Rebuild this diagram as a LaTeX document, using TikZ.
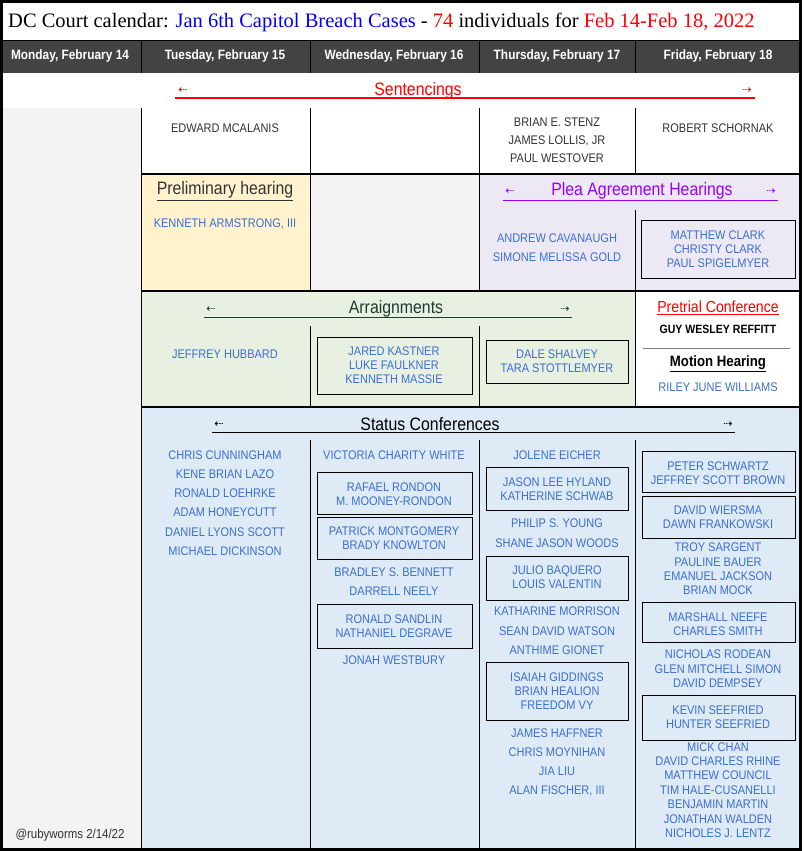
\documentclass[tikz,border=0pt]{standalone}
\usepackage{fontspec}
\setmainfont{Liberation Sans}[FakeStretch=0.88]
\newfontfamily\ser{Liberation Serif}
\newfontfamily\dv{DejaVu Sans}
\definecolor{nblue}{HTML}{3C6FD0}
\definecolor{ndark}{HTML}{333333}
\definecolor{hdr}{HTML}{434343}
\definecolor{mon}{HTML}{F3F3F3}
\definecolor{yel}{HTML}{FFF2CC}
\definecolor{lav}{HTML}{EDE9F4}
\definecolor{grn}{HTML}{E7F0E1}
\definecolor{blu}{HTML}{DEEAF6}
\definecolor{purp}{HTML}{9900FF}
\definecolor{dgrn}{HTML}{1F3B33}
\tikzset{
 nm/.style={text=nblue,font=\fontsize{12.5}{14}\selectfont,inner sep=0pt,align=center},
 nmd/.style={text=ndark,font=\fontsize{12.5}{14}\selectfont,inner sep=0pt,align=center},
 hd/.style={text=white,font=\bfseries\fontsize{13.5}{15}\selectfont,inner sep=0pt},
 sec/.style={font=\fontsize{18}{20}\selectfont,inner sep=0pt},
 ar/.style={font=\dv\fontsize{11}{12}\selectfont,inner sep=0pt},
 bx/.style={draw=black,line width=1pt},
 cl/.style={draw=black,line width=0.8pt},
 thk/.style={draw=black,line width=2pt}
}
\begin{document}
\begin{tikzpicture}[x=1pt,y=-1pt]
\useasboundingbox (0,0) rectangle (804,851);
\fill[white] (0,0) rectangle (804,851);
% fills
\fill[hdr] (0,40) rectangle (800,73);
\fill[mon] (0,108) rectangle (141,851);
\fill[yel] (141,174) rectangle (310,291);
\fill[mon] (310,174) rectangle (479,291);
\fill[lav] (479,174) rectangle (800,291);
\fill[grn] (141,291) rectangle (635,407);
\fill[blu] (141,407) rectangle (800,851);
% header
\foreach \a/\b in {141,310,479,635}{\draw[black,line width=0.8pt] (\a,40) -- (\a,73);}
\node[hd] (h1) at (70,56.5) {Monday, February 14};
\node[hd] (h2) at (225,56.5) {Tuesday, February 15};
\node[hd] (h3) at (394,56.5) {Wednesday, February 16};
\node[hd] (h4) at (557,56.5) {Thursday, February 17};
\node[hd] (h5) at (718,56.5) {Friday, February 18};
\node[inner sep=0pt,anchor=west,font=\ser\fontsize{20.5}{24}\selectfont] (title) at (8,22) {DC Court calendar: \textcolor{blue}{Jan 6th Capitol Breach Cases} - \textcolor{red}{74} individuals for \textcolor{red}{Feb 14-Feb 18, 2022}};
% sentencings
\node[sec,text=red] (sent) at (418,91) {Sentencings};
\draw[red,line width=1.2pt] (175,98) -- (755,98);
\node[ar,text=red] (sa1) at (183,91) {⇠};
\node[ar,text=red] (sa2) at (747,91) {⇢};
\foreach \a in {141,310,479,635}{\draw[cl] (\a,108) -- (\a,174);}
\node[nmd] (s1) at (225,128) {EDWARD MCALANIS};
\node[nmd,align=center] (s2) at (557,140) {BRIAN E. STENZ\\[4pt]JAMES LOLLIS, JR\\[4pt]PAUL WESTOVER};
\node[nmd] (s3) at (718,128) {ROBERT SCHORNAK};
% row 2
\node[sec,text=ndark] (prel) at (225,191) {\underline{Preliminary hearing}};
\node[nm] (p1) at (225,224) {KENNETH ARMSTRONG, III};
\node[sec,text=purp] (plea) at (642,191) {Plea Agreement Hearings};
\draw[purp,line width=1pt] (503,200) -- (778,200);
\node[ar,text=purp] (pa1) at (510,192) {⇠};
\node[ar,text=purp] (pa2) at (771,192) {⇢};
\draw[cl] (635,210) -- (635,291);
\node[nm] (p2) at (557,248) {ANDREW CAVANAUGH\\[5pt]SIMONE MELISSA GOLD};
\draw[bx] (641,220) rectangle (795,278);
\node[nm] (p3) at (718,249) {MATTHEW CLARK\\CHRISTY CLARK\\PAUL SPIGELMYER};
% row 3
\node[sec,text=dgrn] (arr) at (396,309) {Arraignments};
\draw[dgrn,line width=1pt] (204,317) -- (572,317);
\node[ar,text=dgrn] (aa1) at (211,310) {⇠};
\node[ar,text=dgrn] (aa2) at (565,310) {⇢};
\foreach \a in {310,479}{\draw[cl] (\a,326) -- (\a,407);}
\node[nm] (a1) at (225,354) {JEFFREY HUBBARD};
\draw[bx] (317,337) rectangle (472,394);
\node[nm] (a2) at (394,365) {JARED KASTNER\\LUKE FAULKNER\\KENNETH MASSIE};
\draw[bx] (486,340) rectangle (628,383);
\node[nm] (a3) at (557,361) {DALE SHALVEY\\TARA STOTTLEMYER};
\node[sec,text=red,font=\fontsize{16}{18}\selectfont] (pre) at (718,308) {\underline{Pretrial Conference}};
\node[nmd,text=black,font=\bfseries\fontsize{12}{14}\selectfont] (g1) at (718,329) {GUY WESLEY REFFITT};
\draw[gray,line width=1pt] (643,348) -- (790,348);
\node[sec,text=black,font=\bfseries\fontsize{15}{18}\selectfont] (mot) at (718,364) {\underline{Motion Hearing}};
\node[nm] (m1) at (718,387) {RILEY JUNE WILLIAMS};
% row 4
\node[sec,text=black] (stat) at (430,424) {Status Conferences};
\draw[black,line width=1pt] (212,432) -- (735,432);
\node[ar] (sta1) at (219,425) {⇠};
\node[ar] (sta2) at (728,425) {⇢};
\foreach \a in {310,479,635}{\draw[cl] (\a,440) -- (\a,851);}
\foreach \t [count=\i] in {CHRIS CUNNINGHAM,KENE BRIAN LAZO,RONALD LOEHRKE,ADAM HONEYCUTT,DANIEL LYONS SCOTT,MICHAEL DICKINSON}
 {\node[nm] (t\i) at (225,{455+19.2*(\i-1)}) {\t};}
% wed
\node[nm] (w1) at (394,455) {VICTORIA CHARITY WHITE};
\draw[bx] (317,472) rectangle (472,514);
\node[nm] (w2) at (394,494) {RAFAEL RONDON\\M. MOONEY-RONDON};
\draw[bx] (317,517) rectangle (472,559);
\node[nm] (w3) at (394,538) {PATRICK MONTGOMERY\\BRADY KNOWLTON};
\node[nm] (w4) at (394,572) {BRADLEY S. BENNETT};
\node[nm] (w5) at (394,591) {DARRELL NEELY};
\draw[bx] (317,604) rectangle (472,648);
\node[nm] (w6) at (394,626) {RONALD SANDLIN\\NATHANIEL DEGRAVE};
\node[nm] (w7) at (394,660) {JONAH WESTBURY};
% thu
\node[nm] (r1) at (557,455) {JOLENE EICHER};
\draw[bx] (486,467) rectangle (628,510);
\node[nm] (r2) at (557,489) {JASON LEE HYLAND\\KATHERINE SCHWAB};
\node[nm] (r3) at (557,523) {PHILIP S. YOUNG};
\node[nm] (r4) at (557,543) {SHANE JASON WOODS};
\draw[bx] (486,556) rectangle (628,600);
\node[nm] (r5) at (557,577) {JULIO BAQUERO\\LOUIS VALENTIN};
\node[nm] (r6) at (557,611) {KATHARINE MORRISON};
\node[nm] (r7) at (557,631) {SEAN DAVID WATSON};
\node[nm] (r8) at (557,650) {ANTHIME GIONET};
\draw[bx] (486,662) rectangle (628,720);
\node[nm] (r9) at (557,691) {ISAIAH GIDDINGS\\BRIAN HEALION\\FREEDOM VY};
\node[nm] (r10) at (557,733) {JAMES HAFFNER};
\node[nm] (r11) at (557,752) {CHRIS  MOYNIHAN};
\node[nm] (r12) at (557,771) {JIA LIU};
\node[nm] (r13) at (557,791) {ALAN FISCHER, III};
% fri
\draw[bx] (642,451) rectangle (795,492);
\node[nm] (f1) at (718,473) {PETER SCHWARTZ\\JEFFREY SCOTT BROWN};
\draw[bx] (642,496) rectangle (795,538);
\node[nm] (f2) at (718,517) {DAVID WIERSMA\\DAWN FRANKOWSKI};
\node[nm,font=\fontsize{12.5}{14.4}\selectfont] (f3) at (718,569) {TROY SARGENT\\PAULINE BAUER\\EMANUEL JACKSON\\BRIAN MOCK};
\draw[bx] (642,602) rectangle (795,642);
\node[nm] (f4) at (718,624) {MARSHALL NEEFE\\CHARLES SMITH};
\node[nm,font=\fontsize{12.5}{14.4}\selectfont] (f5) at (718,669) {NICHOLAS RODEAN\\GLEN MITCHELL SIMON\\DAVID DEMPSEY};
\draw[bx] (642,695) rectangle (795,740);
\node[nm] (f6) at (718,717) {KEVIN SEEFRIED\\HUNTER SEEFRIED};
\node[nm,font=\fontsize{12.5}{14.4}\selectfont] (f7) at (718,790) {MICK CHAN\\DAVID CHARLES RHINE\\MATTHEW COUNCIL\\TIM HALE-CUSANELLI\\BENJAMIN MARTIN\\JONATHAN WALDEN\\NICHOLES J. LENTZ};
\node[nmd,font=\fontsize{13}{15}\selectfont] (cr) at (70,835) {@rubyworms 2/14/22};
% thick lines
\draw[thk] (141,174) -- (800,174);
\draw[thk] (141,291) -- (800,291);
\draw[thk] (141,407) -- (800,407);
\draw[cl] (141,108) -- (141,851);
\draw[cl] (310,174) -- (310,291);
\draw[cl] (479,174) -- (479,291);
\draw[cl] (635,291) -- (635,407);
\draw[cl] (0,40) -- (800,40);
\draw[line width=3pt] (1.5,1.5) rectangle (800.5,849.5);
\end{tikzpicture}
\end{document}
